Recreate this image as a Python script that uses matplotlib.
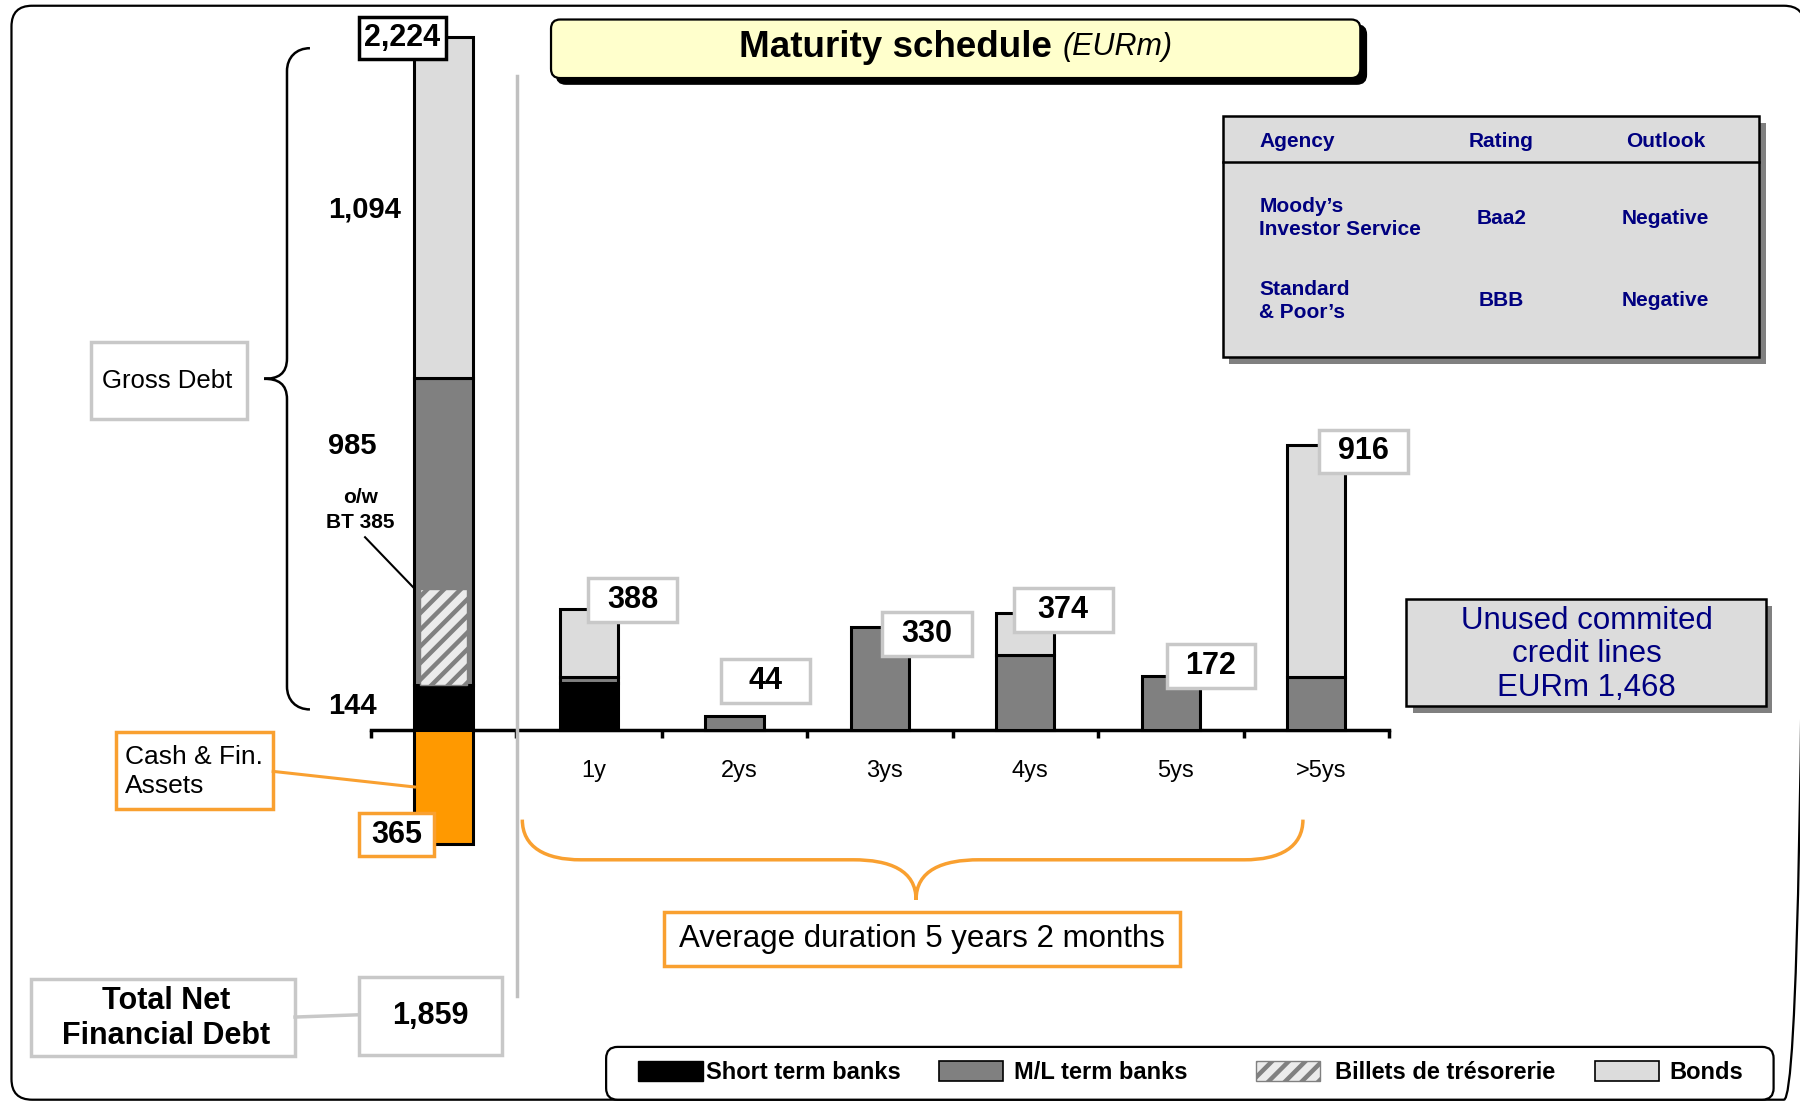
import numpy as np
import matplotlib
matplotlib.use('Agg')
import matplotlib.pyplot as plt
from matplotlib.patches import Rectangle, FancyBboxPatch, PathPatch
from matplotlib.path import Path

plt.rcParams['font.family'] = ['Liberation Sans', 'DejaVu Sans']
plt.rcParams['hatch.linewidth'] = 3.2

# --- data (EURm) ---
categories = ['1y', '2ys', '3ys', '4ys', '5ys', '>5ys']
short_term = [150, 0, 0, 0, 0, 0]
ml_term = [20, 44, 330, 242, 172, 170]
bonds = [218, 0, 0, 132, 0, 746]
totals = [388, 44, 330, 374, 172, 916]

gross_short = 144
gross_ml = 985          # o/w billets de tresorerie
gross_bt = 385
gross_bt_drawn = 310    # height of the hatched part as drawn
gross_bonds = 1094
gross_total = 2224
cash = 365
net_debt = 1859
unused_lines = 1468

agencies = ['Moody\u2019s\nInvestor Service', 'Standard\n& Poor\u2019s']
ratings = ['Baa2', 'BBB']
outlooks = ['Negative', 'Negative']

# --- styles ---
c_short = 'black'
c_ml = '#808080'
c_bonds = '#DCDCDC'
c_cash = '#FF9900'
c_orange = '#F9A030'
c_box = '#C8C8C8'
c_hatch_bg = '#EBEBEB'
navy = '#000080'

W, H = 1568, 960          # layout grid
fig = plt.figure(figsize=(18, 11.02), dpi=100)

# bar axes, placed so that 0 sits on the drawn axis line
axis_y = 636
x0, x1 = 323, 1210
scale = 604 / 2224        # layout px per EURm
ylo, yhi = -420, 2350
bot_px = axis_y - ylo * scale
top_px = axis_y - yhi * scale
ax = fig.add_axes([x0 / W, 1 - bot_px / H, (x1 - x0) / W, (bot_px - top_px) / H])
ax.set_xlim(0, 7)
ax.set_ylim(ylo, yhi)
ax.patch.set_visible(False)
for s in ['left', 'right', 'top']:
    ax.spines[s].set_visible(False)
ax.spines['bottom'].set_position(('data', 0))
ax.spines['bottom'].set_linewidth(2.5)
ax.set_yticks([])
ax.set_xticks(np.arange(8))
ax.set_xticklabels([])
ax.tick_params(axis='x', which='major', direction='out', length=6, width=2.5)
ax.set_xticks(np.arange(1, 7) + 0.53, minor=True)
ax.set_xticklabels(categories, minor=True, fontsize=17)
ax.tick_params(axis='x', which='minor', length=0, pad=21.5)

bw = 0.4
lw_bar = 2.2
xg = 0.5
# gross debt bar + cash
ax.bar(xg, gross_short, bw, color=c_short, edgecolor='black', lw=lw_bar, zorder=3)
ax.bar(xg, gross_ml, bw, bottom=gross_short, color=c_ml, edgecolor='black', lw=lw_bar, zorder=3)
ax.bar(xg, gross_bonds, bw, bottom=gross_short + gross_ml, color=c_bonds, edgecolor='black', lw=lw_bar, zorder=3)
ax.bar(xg, gross_bt_drawn, bw * 0.8, bottom=gross_short, color=c_hatch_bg, edgecolor=c_ml,
       hatch='//', lw=1, zorder=4)
ax.bar(xg, -cash, bw, color=c_cash, edgecolor='black', lw=lw_bar, zorder=3)

# maturity bars
xs = np.arange(1, 7) + 0.5
short_a = np.array(short_term)
ml_a = np.array(ml_term)
bonds_a = np.array(bonds)
for vals, bottom, col in [(short_a, 0 * short_a, c_short),
                          (ml_a, short_a, c_ml),
                          (bonds_a, short_a + ml_a, c_bonds)]:
    m = vals > 0
    ax.bar(xs[m], vals[m], bw, bottom=bottom[m], color=col, edgecolor='black', lw=lw_bar, zorder=3)

# --- overlay in layout coordinates ---
ov = fig.add_axes([0, 0, 1, 1], zorder=10)
ov.set_xlim(0, W)
ov.set_ylim(H, 0)
ov.axis('off')


def to_ov(x, y):
    return ov.transData.inverted().transform(ax.transData.transform((x, y)))


def box(cx, cy, w, h, text, edge, size, weight='bold', lw=2.5, color='black'):
    ov.add_patch(Rectangle((cx - w / 2, cy - h / 2), w, h, fc='white', ec=edge, lw=lw, zorder=5))
    ov.text(cx, cy, text, ha='center', va='center', fontsize=size, fontweight=weight,
            color=color, zorder=6)


# outer frame
ov.add_patch(FancyBboxPatch((10, 5), 1562, 953, boxstyle='round,pad=0,rounding_size=18',
                            fc='none', ec='black', lw=1.6, clip_on=False))

# separator
ov.plot([450, 450], [66, 868], color='#C0C0C0', lw=2.5)

# title
ov.add_patch(FancyBboxPatch((485, 22), 705, 51, boxstyle='round,pad=0,rounding_size=8',
                            fc='black', ec='black', lw=1.5))
ov.add_patch(FancyBboxPatch((480, 17), 705, 51, boxstyle='round,pad=0,rounding_size=8',
                            fc='#FFFFCC', ec='black', lw=1.6))
ov.text(916, 41, 'Maturity schedule', ha='right', va='center', fontsize=26.5, fontweight='bold')
ov.text(926, 41, '(EURm)', ha='left', va='center', fontsize=22, fontstyle='italic')

# value labels on maturity bars
lab_off = [(38, -8), (27, -31), (41, 6), (33, -3), (35, -9), (41, 6)]
lab_w = [78, 78, 78, 86, 76, 77]
for x, t, (dx, dy), w in zip(xs, totals, lab_off, lab_w):
    px, py = to_ov(x, t)
    box(px + dx, py + dy, w, 38, f'{t:,}', c_box, 22)

# gross debt labels
gx_l = xg - bw / 2
px, py = to_ov(xg, gross_total)
box(px - 36, py + 1, 76, 37, f'{gross_total:,}', 'black', 22)
px, py = to_ov(xg, -cash)
box(px - 41, py - 8, 66, 38, f'{cash:,}', c_orange, 22)

lx, ly = to_ov(gx_l, gross_short + gross_ml + gross_bonds / 2)
ov.text(lx - 75, ly + 2, f'{gross_bonds:,}', ha='left', va='center', fontsize=21, fontweight='bold')
lx, ly = to_ov(gx_l, gross_short + gross_ml)
ov.text(lx - 75, ly + 59, f'{gross_ml:,}', ha='left', va='center', fontsize=21, fontweight='bold')
ov.text(lx - 47, ly + 115, f'o/w\nBT {gross_bt}', ha='center', va='center', fontsize=15,
        fontweight='bold', linespacing=1.35)
lx, ly = to_ov(gx_l, gross_short / 2)
ov.text(lx - 75, ly - 1, f'{gross_short:,}', ha='left', va='center', fontsize=21, fontweight='bold')

ex, ey = to_ov(gx_l, gross_short + gross_bt_drawn)
ov.plot([318, ex], [468, ey], color='black', lw=1.5)

# gross debt brace
P = Path
verts = [(270, 42), (258, 42), (250, 50), (250, 62), (250, 312),
         (250, 326), (242, 330), (230, 330),
         (242, 330), (250, 334), (250, 348), (250, 598),
         (250, 610), (258, 618), (270, 618)]
codes = [P.MOVETO, P.CURVE4, P.CURVE4, P.CURVE4, P.LINETO,
         P.CURVE4, P.CURVE4, P.CURVE4,
         P.CURVE4, P.CURVE4, P.CURVE4, P.LINETO,
         P.CURVE4, P.CURVE4, P.CURVE4]
ov.add_patch(PathPatch(Path(verts, codes), fc='none', ec='black', lw=1.8))

ov.add_patch(Rectangle((79, 298), 136, 67, fc='white', ec=c_box, lw=2.5))
ov.text(146, 332, 'Gross Debt', ha='center', va='center', fontsize=18.5)

# cash & fin. assets
ov.add_patch(Rectangle((101, 638), 137, 67, fc='white', ec=c_orange, lw=2.5))
ov.text(109, 672, 'Cash & Fin.\nAssets', ha='left', va='center', fontsize=19, linespacing=1.25)
ex, ey = to_ov(gx_l, -cash / 2)
ov.plot([238, ex], [672, ey], color=c_orange, lw=2.2)

# net debt
ov.plot([257, 313], [886, 884], color=c_box, lw=2.5)
ov.add_patch(Rectangle((27, 853), 230, 67, fc='white', ec=c_box, lw=2.5))
ov.text(145, 887, 'Total Net\nFinancial Debt', ha='center', va='center', fontsize=22,
        fontweight='bold', linespacing=1.22)
box(375, 885, 124, 68, f'{net_debt:,}', c_box, 22)

# average duration brace
verts = [(455, 714), (455, 738), (475, 749), (506, 749), (743, 749),
         (775, 749), (798, 758), (798, 784),
         (798, 758), (821, 749), (853, 749), (1084, 749),
         (1115, 749), (1135, 738), (1135, 714)]
codes = [P.MOVETO, P.CURVE4, P.CURVE4, P.CURVE4, P.LINETO,
         P.CURVE4, P.CURVE4, P.CURVE4,
         P.CURVE4, P.CURVE4, P.CURVE4, P.LINETO,
         P.CURVE4, P.CURVE4, P.CURVE4]
ov.add_patch(PathPatch(Path(verts, codes), fc='none', ec=c_orange, lw=2.5))
box(803, 818, 450, 47, 'Average duration 5 years 2 months', c_orange, 22.5, weight='normal')

# rating table
ov.add_patch(Rectangle((1071, 107), 467, 210, fc='#808080', ec='none'))
ov.add_patch(Rectangle((1065, 101), 467, 210, fc='#DCDCDC', ec='black', lw=1.8))
ov.plot([1065, 1532], [141, 141], color='black', lw=1.8)
hdr = dict(va='center', fontsize=15, fontweight='bold', color=navy)
ov.text(1097, 123, 'Agency', ha='left', **hdr)
ov.text(1308, 123, 'Rating', ha='center', **hdr)
ov.text(1451, 123, 'Outlook', ha='center', **hdr)
for yy, a, r, o in zip([190, 262], agencies, ratings, outlooks):
    ov.text(1097, yy, a, ha='left', linespacing=1.28, **hdr)
    ov.text(1308, yy, r, ha='center', **hdr)
    ov.text(1451, yy, o, ha='center', **hdr)

# unused credit lines
ov.add_patch(Rectangle((1231, 528), 313, 93, fc='#808080', ec='none'))
ov.add_patch(Rectangle((1225, 522), 313, 93, fc='#DCDCDC', ec='black', lw=1.8))
ov.text(1382, 570, f'Unused commited\ncredit lines\nEURm {unused_lines:,}', ha='center', va='center',
        fontsize=22.5, color=navy, linespacing=1.15)

# legend
ov.add_patch(FancyBboxPatch((528, 912), 1017, 46, boxstyle='round,pad=0,rounding_size=10',
                            fc='white', ec='black', lw=1.6))
leg = [(556, 615, dict(fc=c_short, ec='black', lw=1), 'Short term banks'),
       (818, 883, dict(fc=c_ml, ec='black', lw=1.2), 'M/L term banks'),
       (1094, 1163, dict(fc=c_hatch_bg, ec=c_ml, lw=1, hatch='//'), 'Billets de tr\u00e9sorerie'),
       (1389, 1454, dict(fc=c_bonds, ec='black', lw=1.2), 'Bonds')]
for sx, tx, st, lab in leg:
    ov.add_patch(Rectangle((sx, 924), 56, 18, **st))
    ov.text(tx, 934, lab, ha='left', va='center', fontsize=17, fontweight='bold')

fig.savefig('out.png', dpi=100)
